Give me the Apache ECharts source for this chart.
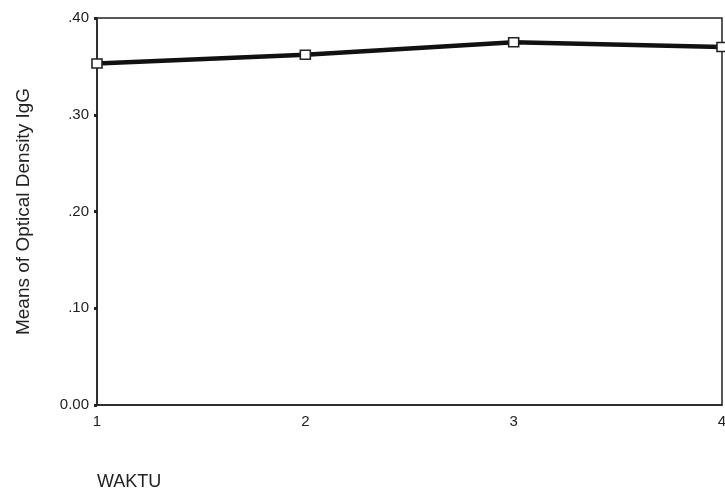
<!DOCTYPE html>
<html>
<head>
<meta charset="utf-8">
<script src="https://cdn.jsdelivr.net/npm/echarts@6/dist/echarts.min.js"></script>
<style>html,body{margin:0;padding:0;background:#fff;overflow:hidden;}#c{width:725px;height:495px;}</style>
</head>
<body>
<div id="c"></div>
<script>
var categories = ['1', '2', '3', '4'];
var meansIgG = [0.353, 0.362, 0.375, 0.370];
var yTickLabels = {0: '0.00', 0.1: '.10', 0.2: '.20', 0.3: '.30', 0.4: '.40'};

var chart = echarts.init(document.getElementById('c'));
var font = 'Liberation Sans, Arial, sans-serif';
chart.setOption({
  animation: false,
  grid: {left: 97, width: 625, top: 18, height: 387, outerBoundsMode: 'none', containLabel: false, show: true, borderColor: '#222', borderWidth: 1.5, backgroundColor: 'transparent'},
  xAxis: {
    type: 'category', data: categories, boundaryGap: false,
    name: 'WAKTU', nameLocation: 'start', nameGap: 0,
    nameTextStyle: {fontFamily: font, fontSize: 18, color: '#222', align: 'left', verticalAlign: 'top', padding: [68, 0, 0, 0]},
    axisLine: {lineStyle: {color: '#222', width: 1.5}},
    axisTick: {show: false},
    splitLine: {show: false},
    axisLabel: {fontFamily: font, fontSize: 15, color: '#222', margin: 9}
  },
  yAxis: {
    type: 'value', min: 0, max: 0.4, interval: 0.1,
    name: 'Means of Optical Density IgG', nameLocation: 'middle', nameGap: 64, nameRotate: 90,
    nameTextStyle: {fontFamily: font, fontSize: 19, color: '#222'},
    axisLine: {show: true, lineStyle: {color: '#222', width: 1.5}},
    axisTick: {show: true, length: 3, lineStyle: {color: '#222', width: 3}},
    splitLine: {show: false},
    axisLabel: {fontFamily: font, fontSize: 15, color: '#222', margin: 8,
      formatter: function (v) { var k = Math.round(v * 10) / 10; return yTickLabels[k] !== undefined ? yTickLabels[k] : v; }}
  },
  series: [{
    type: 'line', data: meansIgG,
    symbol: 'rect', symbolSize: [10, 9],
    lineStyle: {color: '#111', width: 4.5},
    itemStyle: {color: '#fff', borderColor: '#222', borderWidth: 1.5},
    z: 3
  }]
});
</script>
</body>
</html>
